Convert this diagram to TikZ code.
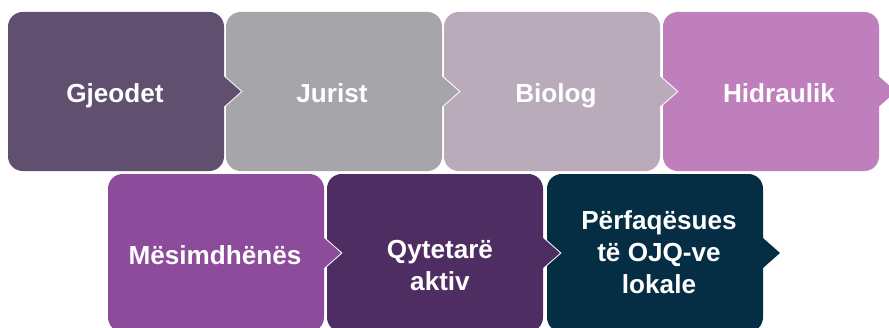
\documentclass[tikz,border=0pt]{standalone}
\usepackage{fontspec}
\setmainfont{Liberation Sans}

\definecolor{gjeodetc}{HTML}{604F6E}
\definecolor{juristc}{HTML}{A6A6AA}
\definecolor{biologc}{HTML}{B9ABBA}
\definecolor{hidraulikc}{HTML}{BE7FBC}
\definecolor{mesimc}{HTML}{8D4B9B}
\definecolor{qytetarc}{HTML}{4D2D62}
\definecolor{perfaqc}{HTML}{052E45}

% box with a notch pointing right: left x, top y, bottom y, colour
\newcommand{\chevbox}[4]{%
  \pgfmathsetmacro{\rx}{#1+216}
  \pgfmathsetmacro{\my}{(#2+#3)/2}
  \pgfmathsetmacro{\tx}{\rx+17}
  \draw[white,line width=1.5pt,rounded corners=11pt] (#1,#2) rectangle (\rx,#3);
  \draw[white,line width=1.5pt] (\rx,\my-15) -- (\tx,\my) -- (\rx,\my+15) -- cycle;
  \fill[#4,rounded corners=11pt] (#1,#2) rectangle (\rx,#3);
  \fill[#4] (\rx-2,\my-15) -- (\rx,\my-15) -- (\tx,\my) -- (\rx,\my+15) -- (\rx-2,\my+15) -- cycle;
}

% anchor=base is the baseline of the last line
\tikzset{lbl/.style={text=white,font=\bfseries\fontsize{19.6}{24}\selectfont,align=center,anchor=base}}

\begin{document}
\begin{tikzpicture}[x=0.75pt,y=-0.75pt]
\useasboundingbox (0,0) rectangle (889,328);
\clip (0,0) rectangle (889,328);

%top row, right to left so the notches lie on top
\chevbox{663}{12}{171}{hidraulikc}
\chevbox{444}{12}{171}{biologc}
\chevbox{226}{12}{171}{juristc}
\chevbox{8}{12}{171}{gjeodetc}

%bottom row
\chevbox{547}{174}{332}{perfaqc}
\chevbox{327}{174}{332}{qytetarc}
\chevbox{108}{174}{332}{mesimc}

\node [lbl] (gjeodet) at (115,103){Gjeodet};
\node [lbl] (jurist) at (332,103){Jurist};
\node [lbl] (biolog) at (556,103){Biolog};
\node [lbl] (hidraulik) at (779,103){Hidraulik};

\node [lbl] (mesim) at (215,264){Mësimdhënës};
\node [lbl] (qytetar) at (440,290){Qytetarë\\aktiv};
\node [lbl] (perfaq) at (659,293){Përfaqësues\\të OJQ-ve\\lokale};

\end{tikzpicture}
\end{document}
